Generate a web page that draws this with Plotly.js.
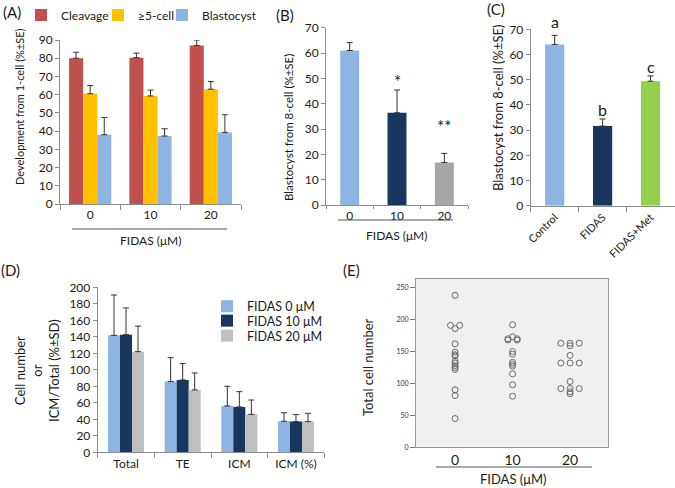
<!DOCTYPE html>
<html><head><meta charset="utf-8">
<script src="https://cdn.plot.ly/plotly-3.0.1.min.js"></script>
<style>html,body{margin:0;padding:0;background:#fff}#chart{width:675px;height:488px}</style>
</head><body><div id="chart"></div><script>
// ---- Panel A ----
const aCats = ['0', '10', '20'];
const aCleavage = [80.0, 80.3, 87.0];
const aCleavageErr = [3.3, 2.5, 3.0];
const aFive = [60.5, 59.3, 63.0];
const aFiveErr = [4.5, 3.2, 4.2];
const aBlast = [38.0, 37.3, 39.3];
const aBlastErr = [9.5, 4.0, 9.7];
// ---- Panel B ----
const bCats = ['0', '10', '20'];
const bVals = [61.0, 36.4, 16.8];
const bErr = [3.1, 9.0, 3.6];
const bMarks = ['', '*', '**'];
// ---- Panel C ----
const cCats = ['Control', 'FIDAS', 'FIDAS+Met'];
const cVals = [64.0, 31.6, 49.4];
const cErr = [3.6, 2.8, 2.1];
const cLetters = ['a', 'b', 'c'];
// ---- Panel D ----
const dCats = ['Total', 'TE', 'ICM', 'ICM (%)'];
const d0 = [141.8, 85.7, 56.2, 37.6];
const d0Err = [48.9, 29.0, 23.8, 10.4];
const d10 = [142.6, 87.7, 55.0, 37.2];
const d10Err = [32.4, 19.8, 18.5, 8.5];
const d20 = [122.0, 75.6, 46.0, 37.2];
const d20Err = [31.0, 20.6, 17.4, 10.1];
// ---- Panel E ----
const eCats = ['0', '10', '20'];
const e0 = [238, 191, 191, 186, 162, 149, 145, 143, 135, 132, 128, 125, 122, 90, 81, 45];
const e10 = [192, 173, 170, 170, 168, 168, 150, 146, 133, 130, 127, 115, 98, 80];
const e20 = [163, 163, 163, 159, 144, 132, 132, 132, 103, 92, 92, 92, 87, 84];

const W = 675, H = 488;
const FONT = 'Lato, "Open Sans", sans-serif';
const TXT = '#1a1a1a';
const AX = '#8c8c8c';
const LBLUE = '#8DB4E2', NAVY = '#17375E', GRAY_B = '#A6A6A6', GRAY_D = '#BFBFBF', GREEN = '#92D050';
const hx = (a, b) => [a / W, b / W];
const vy = (top, bottom) => [1 - bottom / H, 1 - top / H];
const zeros = n => new Array(n).fill(0);
const errUp = arr => ({type: 'data', array: arr, arrayminus: zeros(arr.length), symmetric: false,
  color: '#333', thickness: 1, width: 3});

const traces = [];
// A
[[aCleavage, aCleavageErr, 'Cleavage', '#C0504D', -0.35, 'legend'],
 [aFive, aFiveErr, '≥5-cell', '#FFC000', -0.1167, 'legend3'],
 [aBlast, aBlastErr, 'Blastocyst', LBLUE, 0.1167, 'legend4']].forEach(([v, e, n, c, off, lg]) => {
  traces.push({type: 'bar', x: aCats, y: v, name: n, marker: {color: c}, width: 0.2333, offset: off,
    error_y: errUp(e), xaxis: 'x', yaxis: 'y', legend: lg});
});
// B
traces.push({type: 'bar', x: bCats, y: bVals, marker: {color: [LBLUE, NAVY, GRAY_B]}, width: 0.4,
  error_y: errUp(bErr), xaxis: 'x2', yaxis: 'y2', showlegend: false});
// C
traces.push({type: 'bar', x: cCats, y: cVals, marker: {color: [LBLUE, NAVY, GREEN]}, width: 0.4,
  error_y: errUp(cErr), xaxis: 'x3', yaxis: 'y3', showlegend: false});
// D
[[d0, d0Err, 'FIDAS 0 μM', LBLUE, -0.318, 'legend2'],
 [d10, d10Err, 'FIDAS 10 μM', NAVY, -0.106, 'legend5'],
 [d20, d20Err, 'FIDAS 20 μM', GRAY_D, 0.106, 'legend6']].forEach(([v, e, n, c, off, lg]) => {
  traces.push({type: 'bar', x: dCats, y: v, name: n, marker: {color: c}, width: 0.212, offset: off,
    error_y: errUp(e), xaxis: 'x4', yaxis: 'y4', legend: lg});
});
// E : identical values are spread side by side
const eStep = 0.16;
[e0, e10, e20].forEach((vals, g) => {
  const counts = {}, seen = {};
  vals.forEach(v => counts[v] = (counts[v] || 0) + 1);
  const xs = vals.map(v => {
    const i = seen[v] = (seen[v] === undefined ? 0 : seen[v] + 1);
    return g + (i - (counts[v] - 1) / 2) * eStep;
  });
  traces.push({type: 'scatter', mode: 'markers', x: xs, y: vals, name: eCats[g],
    marker: {symbol: 'circle-open', size: 6, color: '#6b6b6b', line: {width: 1}},
    xaxis: 'x5', yaxis: 'y5', showlegend: false});
});

const baseY = (range, dtick, size) => ({range: range, dtick: dtick, showline: true, linecolor: AX, linewidth: 1,
  ticks: 'outside', ticklen: 4, tickcolor: AX, showgrid: false, zeroline: false,
  tickfont: {family: FONT, size: size, color: TXT}, fixedrange: true});
const baseX = (size, n) => ({type: 'category', range: [-0.5, n - 0.5], showline: true, linecolor: AX, linewidth: 1,
  ticks: 'outside', tickson: 'boundaries', ticklen: 5, tickcolor: AX, showgrid: false, zeroline: false,
  tickfont: {family: FONT, size: size, color: TXT}, fixedrange: true});

const ann = [];
const t = (text, x, y, size, extra) => ann.push(Object.assign({text: text, x: x / W, y: 1 - y / H,
  xref: 'paper', yref: 'paper', showarrow: false, font: {family: FONT, size: size, color: TXT},
  xanchor: 'center', yanchor: 'middle'}, extra || {}));
// panel labels
t('(A)', 12, 12, 15); t('(B)', 285, 15, 15); t('(C)', 496, 9, 15); t('(D)', 10, 270, 15); t('(E)', 352, 270, 15);
// axis titles
t('Development from 1-cell (%±SE)', 20, 107, 11, {textangle: -90});
t('FIDAS (μM)', 150, 240, 12);
t('Blastocyst from 8-cell (%±SE)', 288, 128, 11.5, {textangle: -90});
t('FIDAS (μM)', 396, 235, 12);
t('Blastocyst from 8-cell (%±SE)', 498, 108, 13, {textangle: -90});
t('Cell number<br>or<br>ICM/Total (%±SD)', 37, 371, 13, {textangle: -90});
t('Total cell number', 368, 367, 13, {textangle: -90});
t('FIDAS (μM)', 513, 479, 13);
// significance marks (category axes: x given as category index)
bMarks.forEach((m, i) => { if (m) ann.push({text: m, x: i, y: bVals[i] + bErr[i], xref: 'x2', yref: 'y2',
  showarrow: false, yanchor: 'bottom', yshift: i === 2 ? 14 : -4, font: {family: FONT, size: 17, color: '#1a1a1a'}}); });
cLetters.forEach((m, i) => ann.push({text: m, x: i, y: cVals[i] + cErr[i], xref: 'x3', yref: 'y3',
  showarrow: false, yanchor: 'bottom', yshift: i === 0 ? 2 : -2, font: {family: FONT, size: 16, color: TXT}}));

const line = (x0, x1, y) => ({type: 'line', xref: 'paper', yref: 'paper', x0: x0 / W, x1: x1 / W,
  y0: 1 - y / H, y1: 1 - y / H, line: {color: '#555', width: 1}});
const lg = (x, y, size) => ({x: x / W, y: 1 - y / H, xanchor: 'left', yanchor: 'middle',
  font: {family: FONT, size: size, color: TXT}, bgcolor: 'rgba(0,0,0,0)', borderwidth: 0});

const layout = {
  width: W, height: H, margin: {l: 0, r: 0, t: 0, b: 0}, paper_bgcolor: '#fff', plot_bgcolor: 'rgba(0,0,0,0)',
  barmode: 'group', font: {family: FONT, color: TXT},
  xaxis: Object.assign(baseX(12, 3), {domain: hx(60, 241), anchor: 'y'}),
  yaxis: Object.assign(baseY([0, 90], 10, 12), {domain: vy(40, 204), anchor: 'x'}),
  xaxis2: Object.assign(baseX(12, 3), {domain: hx(326, 468), anchor: 'y2', ticklen: 3}),
  yaxis2: Object.assign(baseY([0, 70], 10, 12), {domain: vy(27.7, 205), anchor: 'x2'}),
  xaxis3: Object.assign(baseX(11, 3), {domain: hx(530.7, 674.5), anchor: 'y3', tickangle: -45}),
  yaxis3: Object.assign(baseY([0, 70], 10, 12), {domain: vy(29.3, 205.7), anchor: 'x3'}),
  xaxis4: Object.assign(baseX(12, 4), {domain: hx(97.7, 324.3), anchor: 'y4'}),
  yaxis4: Object.assign(baseY([0, 200], 20, 12), {domain: vy(287.3, 452.3), anchor: 'x4'}),
  xaxis5: {domain: hx(416, 608), anchor: 'y5', range: [-0.68, 2.66], tickvals: [0, 1, 2], ticktext: eCats,
    showline: true, mirror: true, linecolor: '#999', ticks: '', showgrid: false, zeroline: false,
    tickfont: {family: FONT, size: 14, color: TXT}, fixedrange: true},
  yaxis5: {domain: vy(279, 447.3), anchor: 'x5', range: [0, 263.6], tickvals: [0, 50, 100, 150, 200, 250],
    showline: true, mirror: true, linecolor: '#999', ticks: 'outside', ticklen: 5, tickcolor: '#777',
    showgrid: false, zeroline: false, tickfont: {family: FONT, size: 7, color: '#333'}, fixedrange: true},
  legend: lg(21, 15, 12),
  legend3: lg(98, 15, 12),
  legend4: lg(162, 15, 12),
  legend2: lg(207, 306.7, 12.5),
  legend5: lg(207, 321, 12.5),
  legend6: lg(207, 336, 12.5),
  annotations: ann,
  shapes: [
    {type: 'rect', xref: 'x5 domain', yref: 'y5 domain', x0: 0, x1: 1, y0: 0, y1: 1, fillcolor: '#F0F0F0',
      line: {width: 0}, layer: 'below'},
    line(72, 227, 229), line(338, 453, 220), line(436, 592, 467)
  ]
};
Plotly.newPlot('chart', traces, layout, {staticPlot: true, displayModeBar: false});
</script></body></html>
